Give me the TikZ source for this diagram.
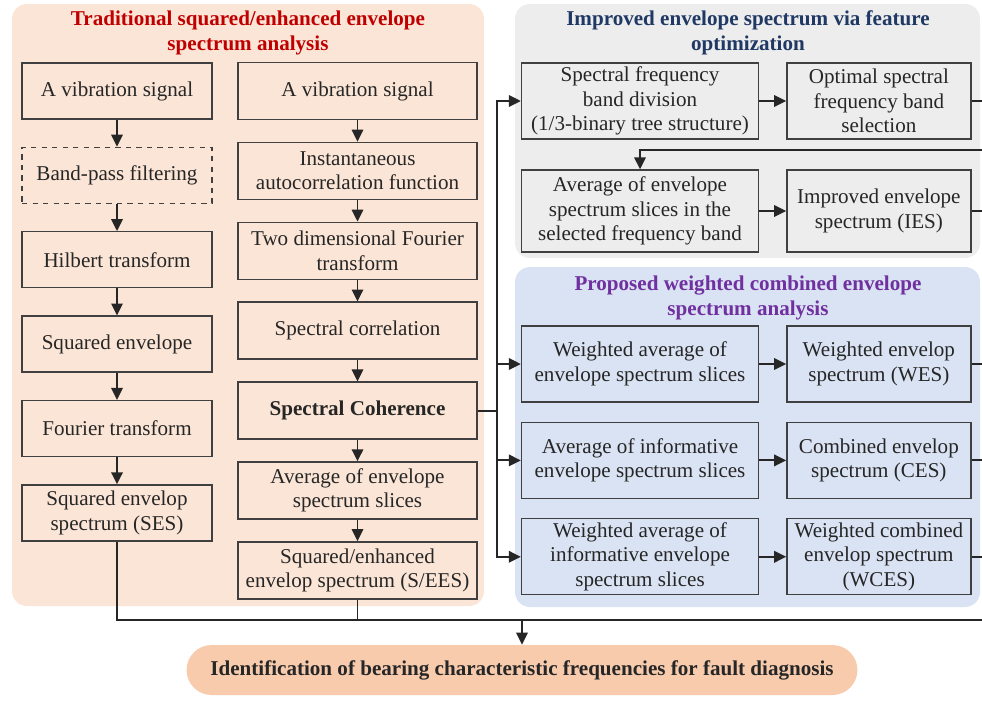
\documentclass[tikz,border=0pt]{standalone}
\usepackage{fontspec}
\setmainfont{Liberation Serif}
\usetikzlibrary{positioning, arrows.meta}

\definecolor{tradfill}{HTML}{FBE5D6}
\definecolor{iesfill}{HTML}{EDEDED}
\definecolor{wcesfill}{HTML}{DAE3F3}
\definecolor{goalfill}{HTML}{F8CBAD}
\definecolor{tradtitle}{HTML}{C00000}
\definecolor{iestitle}{HTML}{1F3864}
\definecolor{wcestitle}{HTML}{7030A0}
\definecolor{boxline}{HTML}{404040}

\tikzset{
	box/.style={draw=boxline, line width=0.8pt, align=center, inner sep=1pt, text=black!85, font=\fontsize{12}{14}\selectfont},
	lbox/.style={box, minimum width=3.8cm, minimum height=1.12cm},
	rbox/.style={box, minimum width=4.78cm, minimum height=1.14cm},
	wbox/.style={box, minimum width=4.74cm, minimum height=1.52cm},
	nbox/.style={box, minimum width=3.68cm, minimum height=1.52cm},
	title/.style={align=center, font=\fontsize{12}{14}\selectfont\bfseries},
	link/.style={draw=black!85, line width=1.1pt}
}

\begin{document}
\begin{tikzpicture}[x=0.02cm, y=-0.02cm, >={Triangle[length=6.8pt,width=6.5pt]}]
	\useasboundingbox (0,0) rectangle (982,700);
	\fill[tradfill, rounded corners=0.3cm] (12,4) rectangle (484,606);
	\fill[iesfill, rounded corners=0.3cm] (515,4) rectangle (980,258);
	\fill[wcesfill, rounded corners=0.3cm] (515,267) rectangle (980,607);

	\node[title, text=tradtitle] (tradhead) at (248,33) {Traditional squared/enhanced envelope\\spectrum analysis};
	\node[title, text=iestitle] (ieshead) at (748,33) {Improved envelope spectrum via feature\\optimization};
	\node[title, text=wcestitle] (wceshead) at (748,298) {Proposed weighted combined envelope\\spectrum analysis};

	\node[lbox] (sig1) at (117,91) {A vibration signal};
	\node[lbox, dashed, below=0.54cm of sig1] (bpf) {Band-pass filtering};
	\node[lbox, below=0.54cm of bpf] (hil) {Hilbert transform};
	\node[lbox, below=0.54cm of hil] (sqe) {Squared envelope};
	\node[lbox, below=0.54cm of sqe] (ft) {Fourier transform};
	\node[lbox, below=0.54cm of ft] (ses) {Squared envelop\\spectrum (SES)};

	\node[rbox] (sig2) at (357.5,91) {A vibration signal};
	\node[rbox, below=0.43cm of sig2] (iaf) {Instantaneous\\autocorrelation function};
	\node[rbox, below=0.43cm of iaf] (tdf) {Two dimensional Fourier\\transform};
	\node[rbox, below=0.43cm of tdf] (scor) {Spectral correlation};
	\node[rbox, below=0.43cm of scor] (sc) {\textbf{Spectral Coherence}};
	\node[rbox, below=0.43cm of sc] (aes) {Average of envelope\\spectrum slices};
	\node[rbox, below=0.43cm of aes] (sees) {Squared/enhanced\\envelop spectrum (S/EES)};

	\node[wbox] (sfb) at (640,101) {Spectral frequency\\band division\\(1/3-binary tree structure)};
	\node[nbox, right=0.54cm of sfb] (osb) {Optimal spectral\\frequency band\\selection};
	\node[wbox, minimum height=1.64cm] (asf) at (640,211) {Average of envelope\\spectrum slices in the\\selected frequency band};
	\node[nbox, minimum height=1.64cm, right=0.54cm of asf] (ies) {Improved envelope\\spectrum (IES)};

	\node[wbox] (was) at (640,364) {Weighted average of\\envelope spectrum slices};
	\node[nbox, right=0.54cm of was] (wes) {Weighted envelop\\spectrum (WES)};
	\node[wbox, below=0.38cm of was] (ais) {Average of informative\\envelope spectrum slices};
	\node[nbox, right=0.54cm of ais] (ces) {Combined envelop\\spectrum (CES)};
	\node[wbox, below=0.38cm of ais] (wais) {Weighted average of\\informative envelope\\spectrum slices};
	\node[nbox, right=0.54cm of wais] (wces) {Weighted combined\\envelop spectrum\\(WCES)};

	\node[fill=goalfill, rounded corners=0.5cm, minimum width=13.42cm, minimum height=1cm, font=\fontsize{12}{14}\selectfont\bfseries, text=black!85] (goal) at (522,670) {Identification of bearing characteristic frequencies for fault diagnosis};

	\foreach \a/\b in {sig1/bpf, bpf/hil, hil/sqe, sqe/ft, ft/ses, sig2/iaf, iaf/tdf, tdf/scor, scor/sc, sc/aes, aes/sees, sfb/osb, asf/ies, was/wes, ais/ces, wais/wces}
		\draw[link, ->] (\a) -- (\b);

	\draw[link] (sc.east) -- ++(19,0) coordinate (sp);
	\draw[link, ->] (sp) |- (sfb.west);
	\draw[link, ->] (sp) |- (wais.west);
	\draw[link, ->] (sp |- was.west) -- (was.west);
	\draw[link, ->] (sp |- ais.west) -- (ais.west);

	\coordinate (loop) at (995,150);
	\coordinate (rail) at (995,620);
	\draw[link, ->] (osb.east) -| (loop) -| (asf.north);
	\foreach \n in {ies, wes, ces, wces}
		\draw[link] (\n.east) -- (\n.east -| rail);
	\draw[link] (ies.east -| rail) -- (rail);
	\draw[link] (ses.south) |- (rail);
	\draw[link] (sees.south) -- (sees.south |- rail);
	\draw[link, ->] (goal.north |- rail) -- (goal.north);
\end{tikzpicture}
\end{document}
